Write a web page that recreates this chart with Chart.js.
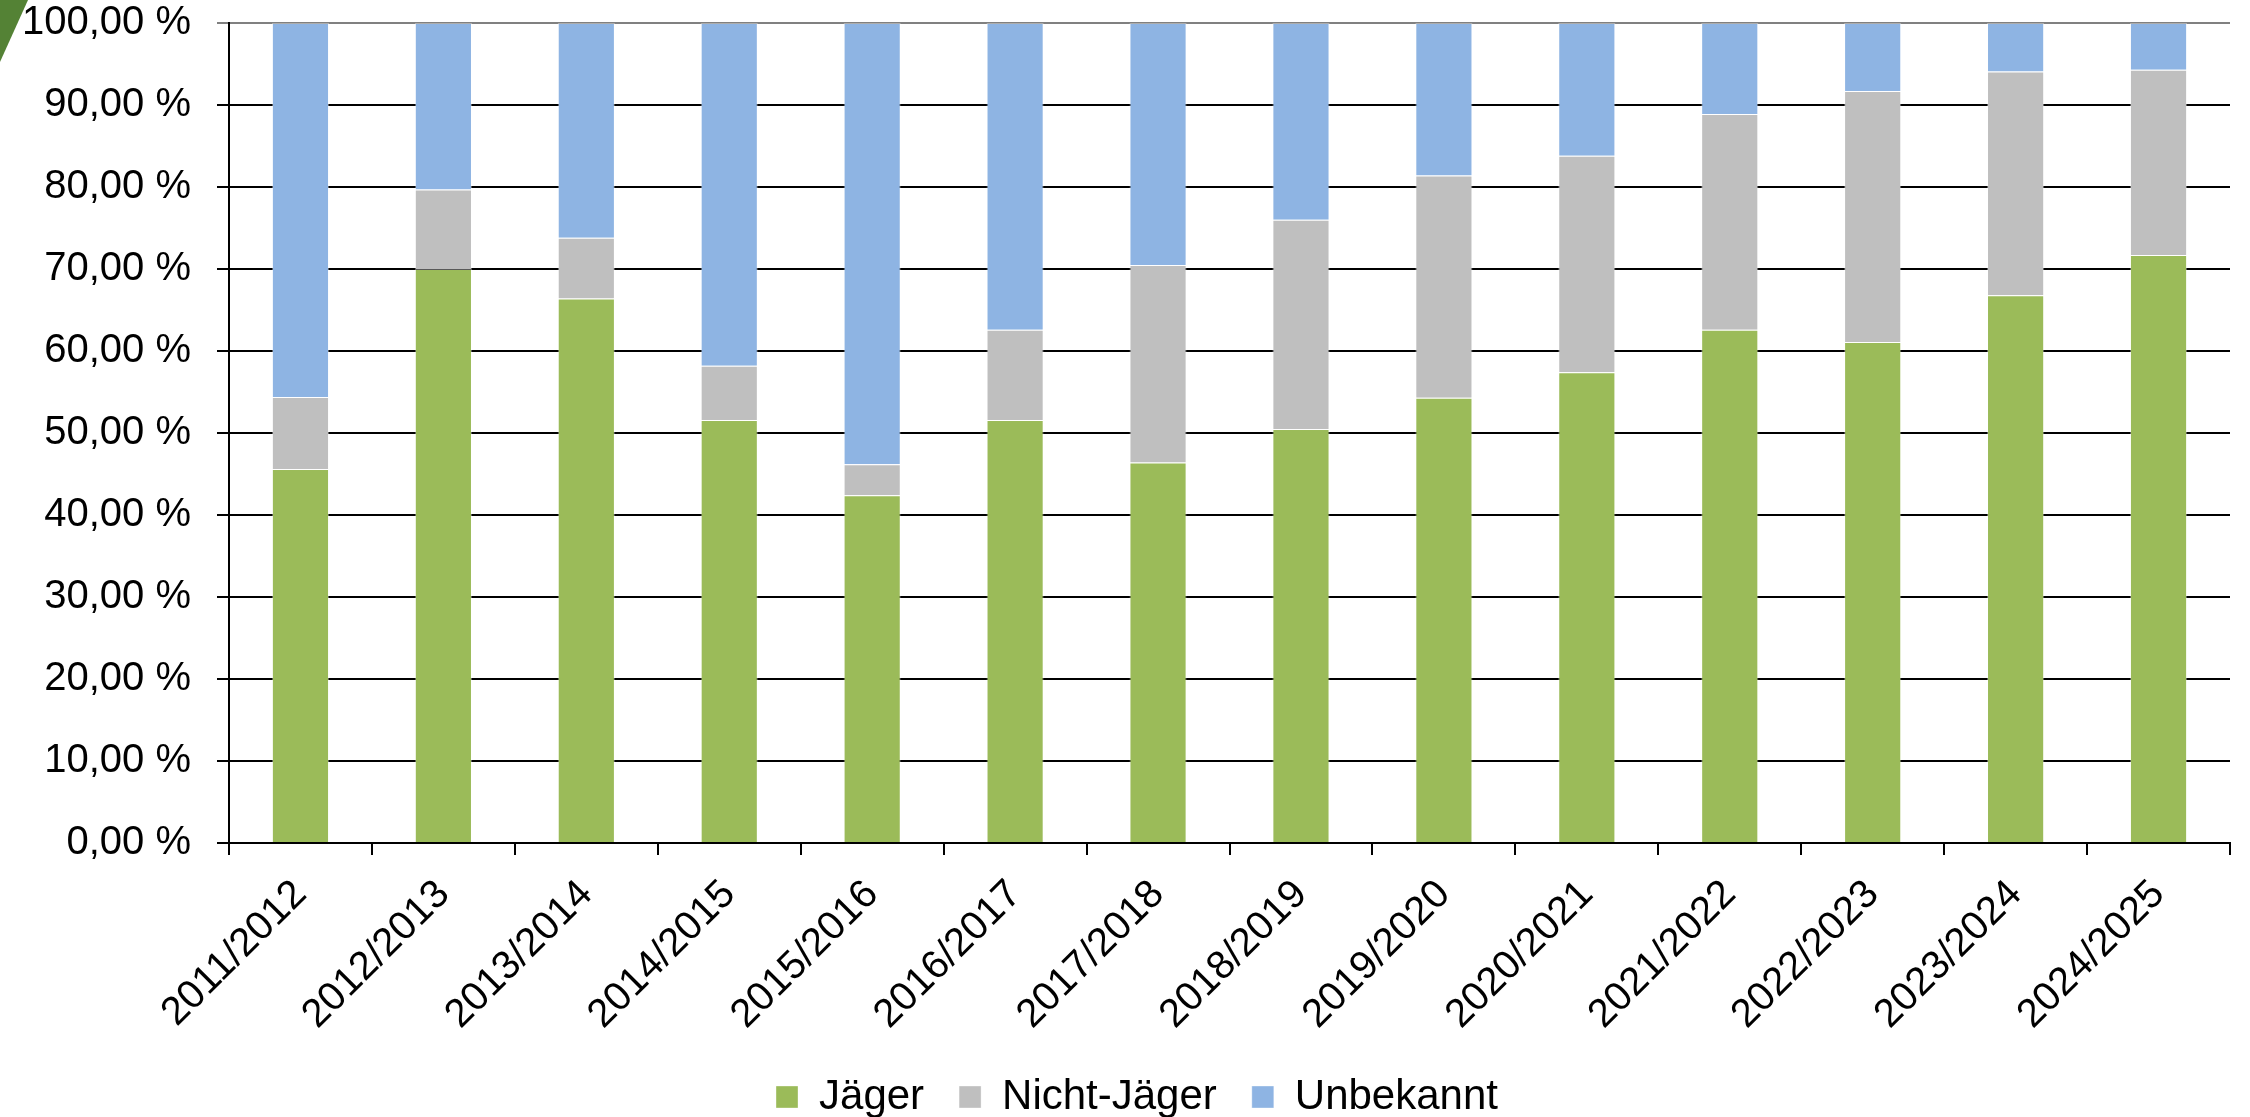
<!DOCTYPE html>
<html>
<head>
<meta charset="utf-8">
<script src="https://cdn.jsdelivr.net/npm/chart.js@4/dist/chart.umd.min.js"></script>
<style>
  html, body { margin: 0; padding: 0; background: #fff; }
  #wrap { position: relative; width: 2250px; height: 1117px; }
  #corner { position: absolute; left: 0; top: 0; width: 28px; height: 62px; background: #548235;
            clip-path: polygon(0 0, 28px 0, 0 62px); z-index: 0; }
  #chart { position: relative; z-index: 1; }
</style>
</head>
<body>
<div id="wrap">
  <div id="corner"></div>
  <canvas id="chart" width="2250" height="1117"></canvas>
</div>
<script>
// Saisons
const seasons = ['2011/2012', '2012/2013', '2013/2014', '2014/2015', '2015/2016', '2016/2017', '2017/2018',
                 '2018/2019', '2019/2020', '2020/2021', '2021/2022', '2022/2023', '2023/2024', '2024/2025'];

// Anteile in Prozent
const jaeger      = [45.6, 70.0, 66.4, 51.6, 42.4, 51.6, 46.4, 50.5, 54.3, 57.4, 62.6, 61.1, 66.8, 71.7];
const nichtJaeger = [ 8.8,  9.7,  7.4,  6.6,  3.8, 11.0, 24.1, 25.5, 27.1, 26.4, 26.3, 30.6, 27.3, 22.6];
const unbekannt   = [45.6, 20.3, 26.2, 41.8, 53.8, 37.4, 29.5, 24.0, 18.6, 16.2, 11.1,  8.3,  5.9,  5.7];

const yTicks = [0, 10, 20, 30, 40, 50, 60, 70, 80, 90, 100];

const font = { family: 'Liberation Sans, Arial, sans-serif', size: 40 };

function makeSet(label, data, color) {
    return {
        label: label,
        data: data,
        backgroundColor: color,
        borderColor: 'rgba(255,255,255,0.35)',
        borderWidth: 1,
        categoryPercentage: 1.0,
        barPercentage: 0.4
    };
}

// Legende etwas nach rechts schieben, wie im Original
const legendShift = {
    id: 'legendShift',
    afterLayout(chart) {
        chart.legend.left += 22;
        chart.legend.right += 22;
    }
};

const ctx = document.getElementById('chart').getContext('2d');
const chart = new Chart(ctx, {
    type: 'bar',
    data: {
        labels: seasons,
        datasets: [
            makeSet('Jäger', jaeger, '#9BBB59'),
            makeSet('Nicht-Jäger', nichtJaeger, '#BFBFBF'),
            makeSet('Unbekannt', unbekannt, '#8EB4E3')
        ]
    },
    plugins: [legendShift],
    options: {
        responsive: false,
        animation: false,
        layout: { padding: { left: 0, right: 20, top: 0, bottom: -11 } },
        plugins: {
            legend: {
                position: 'bottom',
                labels: {
                    color: '#000',
                    font: { family: font.family, size: 42 },
                    boxWidth: 22,
                    boxHeight: 22,
                    padding: 35
                }
            },
            tooltip: { enabled: false }
        },
        scales: {
            x: {
                stacked: true,
                offset: true,
                grid: {
                    offset: true,
                    drawOnChartArea: false,
                    drawTicks: true,
                    tickLength: 12,
                    color: '#000',
                    lineWidth: 2
                },
                border: { color: '#000', width: 2 },
                ticks: {
                    color: '#000',
                    font: font,
                    maxRotation: 45,
                    minRotation: 45,
                    autoSkip: false,
                    padding: 16
                },
                afterFit: function (scale) { scale.height = 198; }
            },
            y: {
                stacked: true,
                min: 0,
                max: 100,
                afterBuildTicks: function (scale) {
                    scale.ticks = yTicks.map(v => ({ value: v }));
                },
                grid: {
                    color: function (c) { return c.tick && c.tick.value === 100 ? '#808080' : '#000'; },
                    lineWidth: 2,
                    tickLength: 12
                },
                border: { color: '#000', width: 2 },
                ticks: {
                    color: '#000',
                    font: font,
                    padding: 26,
                    callback: function (v) { return v.toFixed(2).replace('.', ',') + ' %'; }
                },
                afterFit: function (scale) {
                    scale.width = 229;
                    scale.paddingTop = 23;
                    scale.paddingBottom = 0;
                }
            }
        }
    }
});
</script>
</body>
</html>
